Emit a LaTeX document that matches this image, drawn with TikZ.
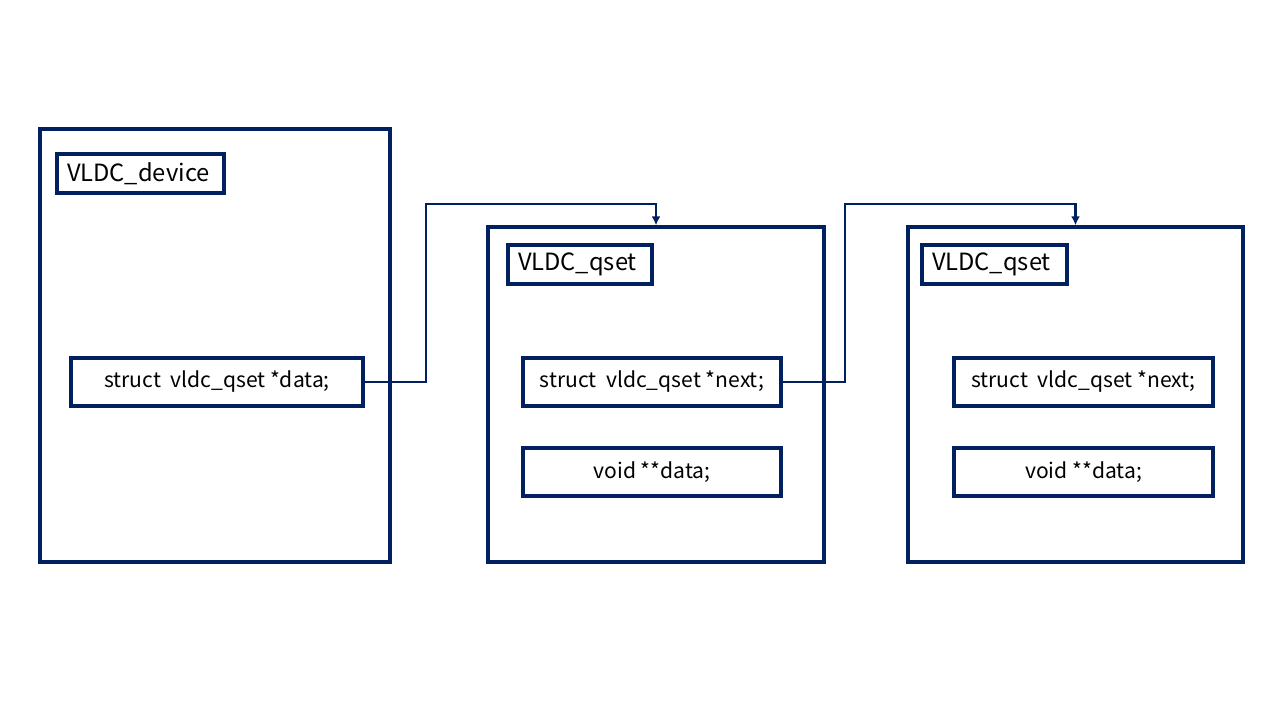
\documentclass[tikz,border=0pt]{standalone}
\usepackage{fontspec}
\setmainfont{Noto Sans CJK JP}
\usetikzlibrary{arrows.meta}
\definecolor{navy}{HTML}{002060}
\tikzset{
  outerbox/.style={draw=navy, line width=2pt, fill=white},
  titlebox/.style={draw=navy, line width=1.8pt, minimum height=0.78cm, inner xsep=0.2cm, align=left, font=\fontsize{13.5}{15}\selectfont},
  fieldbox/.style={draw=navy, line width=1.8pt, minimum height=0.96cm, align=center, font=\fontsize{12}{13}\selectfont},
  link/.style={draw=navy, line width=1.4pt, -{Latex[length=5pt,width=5pt]}}
}
\begin{document}
\begin{tikzpicture}[x=0.02cm,y=-0.02cm]
\useasboundingbox[fill=white] (0,0) rectangle (1280,720);
% device
\node[outerbox, minimum width=7cm, minimum height=8.66cm] (dev) at (215,345.5) {};
\node[titlebox, text width=2.94cm] (devt) at (140.5,173.5) {VLDC\_device};
\node[fieldbox, minimum width=5.84cm] (devd) at (217,382) {struct\ \ vldc\_qset\ *data;};
% qset 1
\node[outerbox, minimum width=6.72cm, minimum height=6.7cm] (q1) at (656,394.5) {};
\node[titlebox, text width=2.48cm] (q1t) at (580,264.5) {VLDC\_qset};
\node[fieldbox, minimum width=5.16cm] (q1n) at (652,382) {struct\ \ vldc\_qset\ *next;};
\node[fieldbox, minimum width=5.16cm] (q1d) at (652,472) {void\ **data;};
% qset 2
\node[outerbox, minimum width=6.7cm, minimum height=6.7cm] (q2) at (1075.5,394.5) {};
\node[titlebox, text width=2.5cm] (q2t) at (994.5,264.5) {VLDC\_qset};
\node[fieldbox, minimum width=5.18cm] (q2n) at (1083.5,382) {struct\ \ vldc\_qset\ *next;};
\node[fieldbox, minimum width=5.18cm] (q2d) at (1083.5,472) {void\ **data;};
% connectors
\coordinate (c1) at (426,204);
\coordinate (c2) at (845,204);
\draw[link] (devd.east) -| (c1) -| (q1.north);
\draw[link] (q1n.east) -| (c2) -| (q2.north);
\end{tikzpicture}
\end{document}
